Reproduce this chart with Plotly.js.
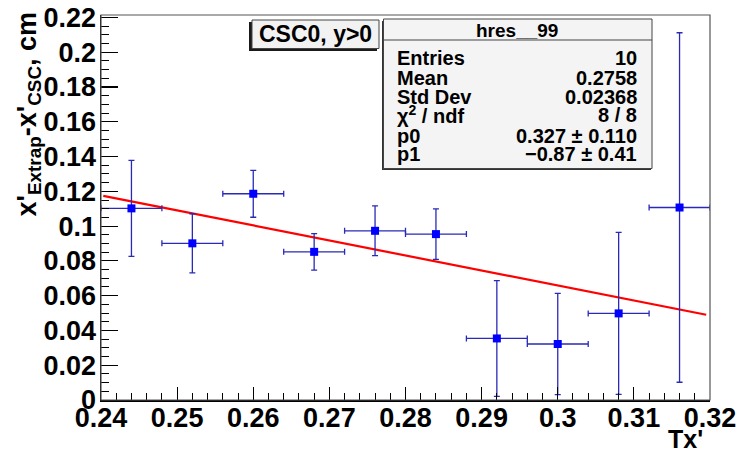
<!DOCTYPE html>
<html>
<head>
<meta charset="utf-8">
<script src="https://cdn.plot.ly/plotly-3.0.1.min.js"></script>
<style>
html,body{margin:0;padding:0;background:#fff;}
#chart{width:737px;height:452px;}
</style>
</head>
<body>
<div id="chart"></div>
<script>
// ---- data ----
const binCenters = [0.244, 0.252, 0.260, 0.268, 0.276, 0.284, 0.292, 0.300, 0.308, 0.316];
const binHalfWidth = [0.004, 0.004, 0.004, 0.004, 0.004, 0.004, 0.004, 0.004, 0.004, 0.004];
const resValues = [0.1102, 0.0901, 0.1186, 0.0852, 0.0973, 0.0954, 0.0354, 0.0322, 0.0498, 0.1107];
const resErrors = [0.0276, 0.0170, 0.0135, 0.0105, 0.0143, 0.0145, 0.0333, 0.0291, 0.0466, 0.1005];
const fitX = [0.2403, 0.3195];
const fitY = [0.1174, 0.0490];
const xTickVals = [0.24, 0.25, 0.26, 0.27, 0.28, 0.29, 0.30, 0.31, 0.32];
const xTickText = ["0.24", "0.25", "0.26", "0.27", "0.28", "0.29", "0.3", "0.31", "0.32"];
const yTickVals = [0, 0.02, 0.04, 0.06, 0.08, 0.10, 0.12, 0.14, 0.16, 0.18, 0.20, 0.22];
const yTickText = ["0", "0.02", "0.04", "0.06", "0.08", "0.1", "0.12", "0.14", "0.16", "0.18", "0.2", "0.22"];
const statLabels = ["Entries", "Mean", "Std Dev", "\u03c7<sup>2</sup> / ndf", "p0", "p1"];
const statValues = ["10", "0.2758", "0.02368", "8 / 8", "0.327 \u00b1 0.110", "\u22120.87 \u00b1 0.41"];
const statTitle = "hres__99";
const paveText = "CSC0, y>0";

// ---- layout geometry (pixels) ----
const W = 737, H = 452;
const L = 101, R = 710, T = 15, B = 400;
const px = p => (p - L) / (R - L);
const py = p => (B - p) / (B - T);
const FONT = "Liberation Sans, Arial, sans-serif";

const traces = [
  {
    x: fitX, y: fitY, type: "scatter", mode: "lines",
    line: {color: "#ff0000", width: 2.2},
    hoverinfo: "skip", showlegend: false
  },
  {
    x: binCenters, y: resValues, type: "scatter", mode: "markers",
    marker: {symbol: "square", size: 8, color: "#0000ff"},
    error_y: {type: "data", array: resErrors, visible: true, color: "#2a2ab8", thickness: 1.3, width: 3},
    error_x: {type: "data", array: binHalfWidth, visible: true, color: "#2a2ab8", thickness: 1.3, width: 3},
    showlegend: false
  }
];

const shapes = [
  {type: "rect", xref: "paper", yref: "paper", x0: 0, x1: 1, y0: 0, y1: 1,
   line: {color: "#555", width: 1.2}, fillcolor: "rgba(0,0,0,0)", layer: "above"},
  {type: "rect", xref: "paper", yref: "paper", x0: px(249), x1: px(377), y0: py(51), y1: py(22),
   line: {width: 0}, fillcolor: "#1a1a1a", layer: "above"},
  {type: "rect", xref: "paper", yref: "paper", x0: px(252), x1: px(379), y0: py(48.5), y1: py(20),
   line: {color: "#444", width: 1}, fillcolor: "#f2f2f2", layer: "above"},
  {type: "rect", xref: "paper", yref: "paper", x0: px(382), x1: px(651), y0: py(170), y1: py(21),
   line: {width: 0}, fillcolor: "#333", layer: "above"},
  {type: "rect", xref: "paper", yref: "paper", x0: px(383.5), x1: px(652), y0: py(168.5), y1: py(19),
   line: {color: "#444", width: 1}, fillcolor: "#f4f4f4", layer: "above"},
  {type: "line", xref: "paper", yref: "paper", x0: px(383.5), x1: px(652), y0: py(40), y1: py(40),
   line: {color: "#444", width: 1}, layer: "above"}
];

const annotations = [];
annotations.push({
  xref: "paper", yref: "paper", x: px(315.5), y: py(34.5), xanchor: "center", yanchor: "middle",
  text: paveText, showarrow: false, font: {family: FONT, size: 23, color: "#000", weight: 700}
});
annotations.push({
  xref: "paper", yref: "paper", x: px(517), y: py(30), xanchor: "center", yanchor: "middle",
  text: statTitle, showarrow: false, font: {family: FONT, size: 19, color: "#000", weight: 700}
});
const rowY = [58, 78, 96.5, 115, 135.5, 154.5];
for (let i = 0; i < statLabels.length; i++) {
  annotations.push({
    xref: "paper", yref: "paper", x: px(395), y: py(rowY[i]), xanchor: "left", yanchor: "middle",
    text: statLabels[i], showarrow: false, font: {family: FONT, size: 20, color: "#000", weight: 700}
  });
  annotations.push({
    xref: "paper", yref: "paper", x: px(639), y: py(rowY[i]), xanchor: "right", yanchor: "middle",
    text: statValues[i], showarrow: false, font: {family: FONT, size: 20, color: "#000", weight: 700}
  });
}
annotations.push({
  xref: "paper", yref: "paper", x: px(28), y: py(10), xanchor: "center", yanchor: "top",
  textangle: -90, text: "x'<sub>Extrap</sub>-x'<sub>CSC</sub>, cm", showarrow: false,
  font: {family: FONT, size: 27, color: "#000", weight: 700}
});
annotations.push({
  xref: "paper", yref: "paper", x: px(705), y: py(439), xanchor: "right", yanchor: "middle",
  text: "Tx'", showarrow: false, font: {family: FONT, size: 25, color: "#000", weight: 700}
});

const layout = {
  width: W, height: H,
  margin: {l: L, r: W - R, t: T, b: H - B, pad: 0},
  paper_bgcolor: "#fff", plot_bgcolor: "#fff",
  showlegend: false,
  xaxis: {
    range: [0.24, 0.32], showgrid: false, zeroline: false,
    showline: true, linecolor: "#000", linewidth: 1.5,
    ticks: "inside", ticklen: 13, tickwidth: 1.2, tickcolor: "#000",
    tickvals: xTickVals, ticktext: xTickText,
    tickfont: {family: FONT, size: 27, color: "#000", weight: 700},
    minor: {dtick: 0.002, ticks: "inside", ticklen: 7, tickwidth: 1, tickcolor: "#000", showgrid: false},
    ticklabelstandoff: -7
  },
  yaxis: {
    range: [0, 0.2214], showgrid: false, zeroline: false,
    showline: true, linecolor: "#000", linewidth: 1.5,
    ticks: "inside", ticklen: 17, tickwidth: 1.2, tickcolor: "#000",
    tickvals: yTickVals, ticktext: yTickText,
    tickfont: {family: FONT, size: 27, color: "#000", weight: 700},
    minor: {dtick: 0.005, ticks: "inside", ticklen: 8, tickwidth: 1, tickcolor: "#000", showgrid: false},
    ticklabelstandoff: -2
  },
  shapes: shapes,
  annotations: annotations
};

Plotly.newPlot("chart", traces, layout, {displayModeBar: false, staticPlot: true});
</script>
</body>
</html>
